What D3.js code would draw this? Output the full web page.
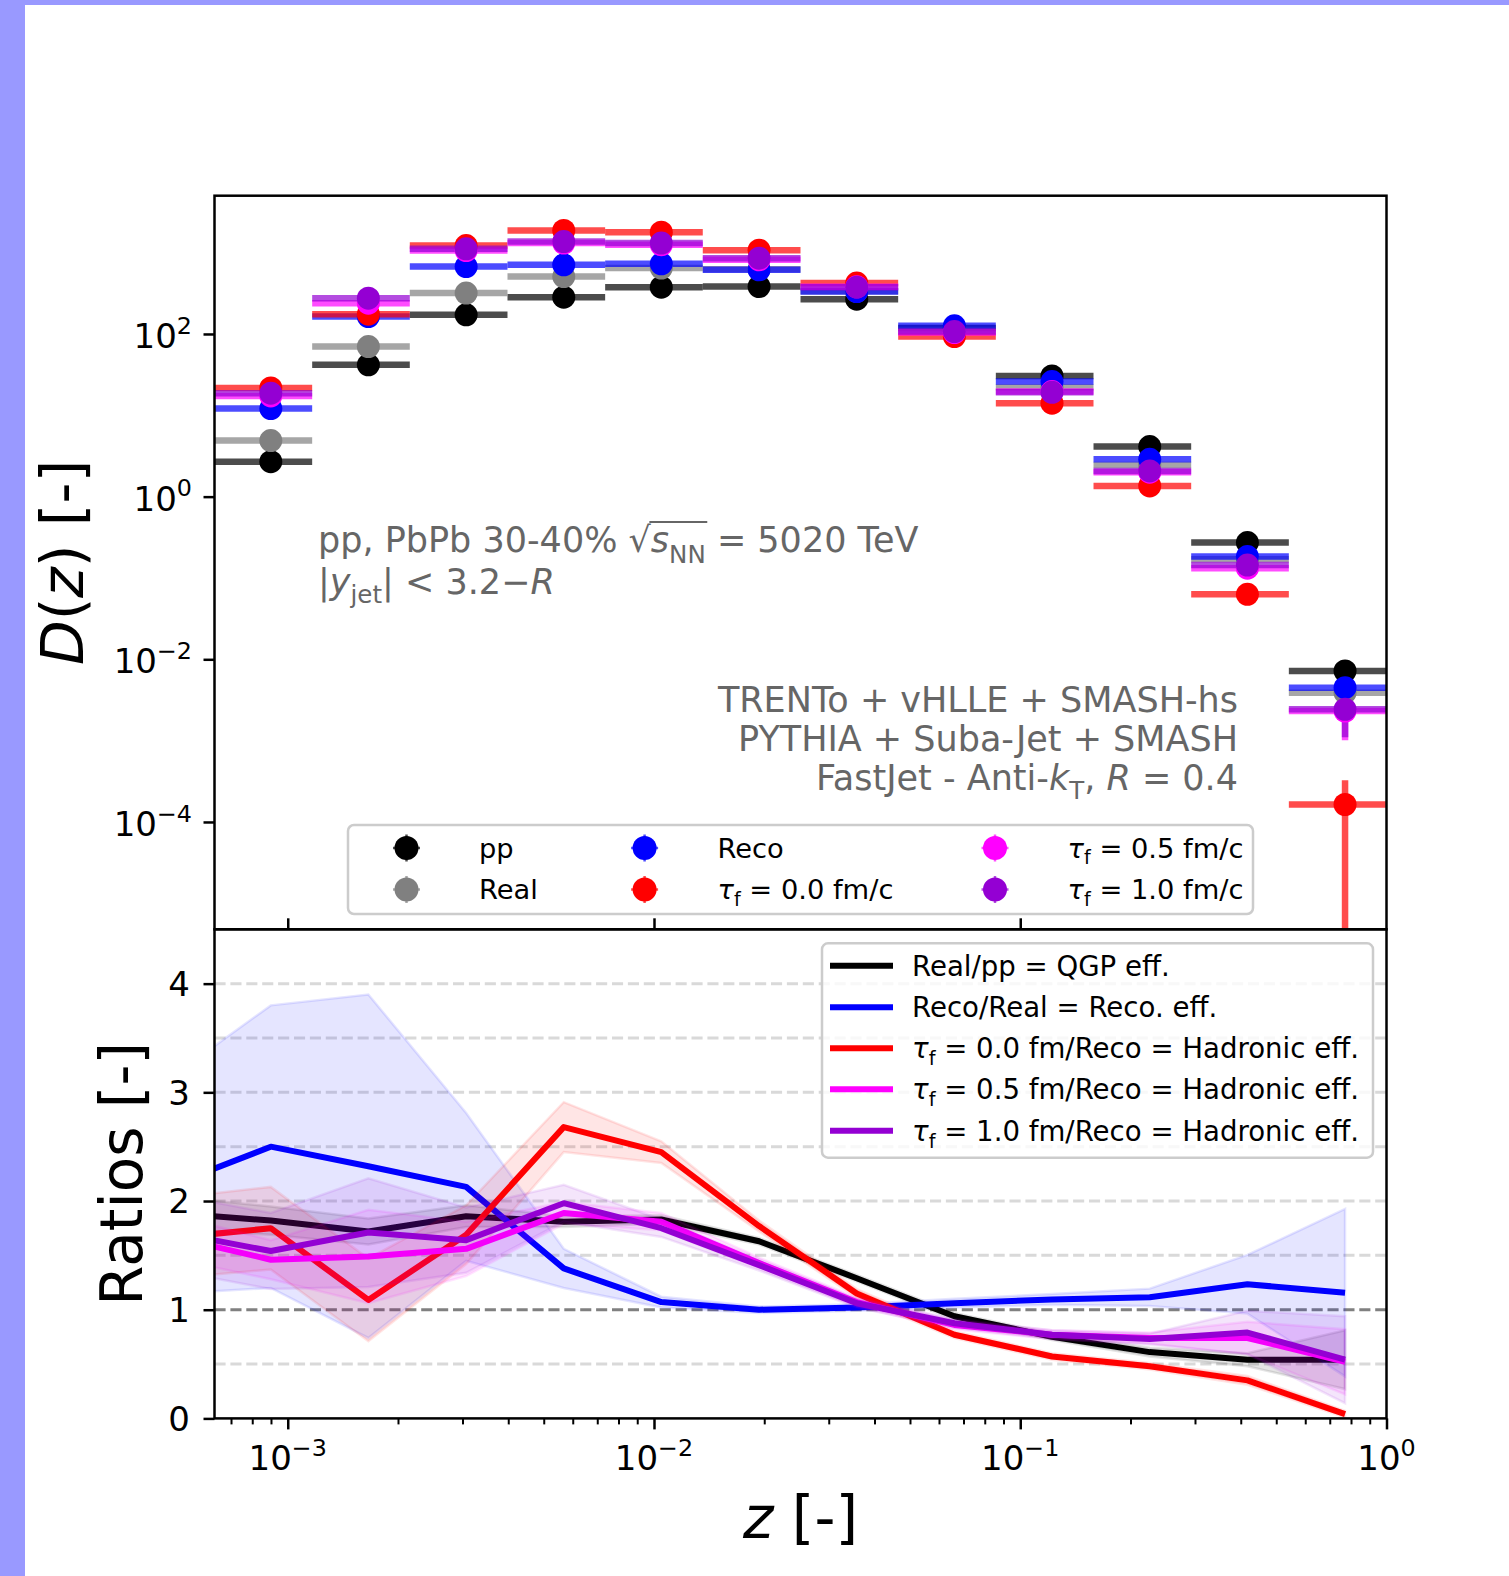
<!DOCTYPE html>
<html><head><meta charset="utf-8">
<script src="https://cdn.jsdelivr.net/npm/d3@7/dist/d3.min.js"></script>
<style>
html,body{margin:0;padding:0;background:#fff;}
svg{display:block;font-family:"DejaVu Sans",sans-serif;}
text{white-space:pre;}
</style></head><body>
<svg id="chart" width="1509" height="1576"></svg>
<script>
// ---------------- DATA ----------------
const binEdges = [0.000631, 0.001166, 0.002154, 0.003981, 0.007356, 0.01359, 0.02512, 0.04642, 0.08577, 0.1585, 0.2929, 0.5412, 1.0];
const zCenters = [0.000899, 0.00166, 0.00307, 0.00567, 0.01047, 0.01936, 0.03577, 0.06610, 0.1221, 0.2257, 0.4171, 0.7706];

const ppValues    = [2.69, 41.7, 172, 283, 376, 383, 268, 118, 30.5, 4.12, 0.272, 0.00718];
const ppErrors    = [0.08, 0.9, 2.5, 3.5, 4, 4, 3, 1.5, 0.5, 0.09, 0.01, 0.0006];
const realValues  = [4.89, 70, 318, 508, 645, 624, 335, 112, 22.1, 2.45, 0.17, 0.00389];
const realErrors  = [0.2, 2, 6, 8, 9, 8, 5, 2, 0.5, 0.08, 0.01, 0.0006];
const recoValues  = [12.1, 164, 675, 708, 728, 614, 332, 126, 26, 2.88, 0.183, 0.00448];
const recoErrors  = [0.5, 4, 12, 12, 11, 9, 5, 2, 0.6, 0.1, 0.012, 0.0008];
const tau00Values = [21.7, 175, 1222, 1871, 1786, 1073, 422, 93, 14.1, 1.355, 0.063, 0.000164];
const tau00Errors = [0.8, 4, 20, 28, 25, 15, 6, 1.8, 0.4, 0.06, 0.006, 0.000162];
const tau05Values = [17.3, 239, 1061, 1309, 1247, 816, 380, 104, 19.6, 2.0, 0.132, 0.00231];
const tau05Errors = [0.7, 5, 18, 20, 18, 12, 6, 2, 0.5, 0.08, 0.012, 0.0013];
const tau10Values = [18.7, 275, 1114, 1370, 1309, 855, 376, 107, 19.2, 2.07, 0.144, 0.00243];
const tau10Errors = [0.7, 5, 18, 20, 18, 12, 6, 2, 0.5, 0.08, 0.012, 0.00133];

// ratio panel (first point lies left of the visible range)
const ratioZ = [0.000486, 0.000899, 0.00166, 0.00307, 0.00567, 0.01047, 0.01936, 0.03577, 0.06610, 0.1221, 0.2257, 0.4171, 0.7706];
const qgpRatio    = [1.89, 1.82, 1.72, 1.86, 1.81, 1.83, 1.63, 1.29, 0.94, 0.75, 0.61, 0.54, 0.54];
const qgpErr      = [0.15, 0.13, 0.12, 0.10, 0.05, 0.04, 0.03, 0.03, 0.03, 0.03, 0.04, 0.06, 0.27];
const recoRatio   = [2.15, 2.50, 2.32, 2.13, 1.38, 1.07, 1.00, 1.02, 1.06, 1.095, 1.114, 1.234, 1.157];
const recoErr     = [1.0, 1.3, 1.58, 0.68, 0.18, 0.05, 0.03, 0.03, 0.04, 0.05, 0.08, 0.27, 0.77];
const had00Ratio  = [1.66, 1.75, 1.09, 1.69, 2.68, 2.45, 1.77, 1.15, 0.77, 0.57, 0.48, 0.35, 0.04];
const had00Err    = [0.37, 0.38, 0.38, 0.27, 0.23, 0.10, 0.05, 0.04, 0.03, 0.03, 0.03, 0.04, 0.03];
const had05Ratio  = [1.67, 1.46, 1.49, 1.56, 1.89, 1.81, 1.43, 1.07, 0.86, 0.77, 0.74, 0.74, 0.52];
const had05Err    = [0.2, 0.18, 0.43, 0.25, 0.10, 0.08, 0.05, 0.04, 0.04, 0.04, 0.05, 0.15, 0.30];
const had10Ratio  = [1.71, 1.54, 1.71, 1.64, 1.98, 1.75, 1.41, 1.06, 0.875, 0.77, 0.73, 0.79, 0.54];
const had10Err    = [0.35, 0.35, 0.50, 0.30, 0.17, 0.08, 0.05, 0.04, 0.04, 0.04, 0.05, 0.20, 0.40];

const topYTicks = [1e-4, 1e-2, 1, 1e2];
const topYTickLabels = [["10","−4"],["10","−2"],["10","0"],["10","2"]];
const xMajorTicks = [1e-3, 1e-2, 1e-1, 1];
const xTickLabels = [["10","−3"],["10","−2"],["10","−1"],["10","0"]];
const botYTicks = [0, 1, 2, 3, 4];
const gridLevels = [0.5, 1.5, 2, 2.5, 3, 3.5, 4];
const refLevel = 1;

// ---------------- LAYOUT ----------------
const L = 214.5, R = 1386.5, T1 = 195.7, B1 = 929.3, B2 = 1418.4;
const TICKFONT = 34, LEGFONT = 27.3, ANNOFONT = 35, LABELFONT = 58;
const svg = d3.select("#chart");
svg.append("rect").attr("width",1509).attr("height",1576).attr("fill","#fff");
svg.append("rect").attr("x",0).attr("y",0).attr("width",25).attr("height",1576).attr("fill","#9999ff");
svg.append("rect").attr("x",0).attr("y",0).attr("width",1509).attr("height",5).attr("fill","#9999ff");

const x = d3.scaleLog().domain([binEdges[0], binEdges[binEdges.length-1]]).range([L, R]);
const yTop = d3.scaleLog().domain([4.79e-6, 5012]).range([B1, T1]);
const yBot = d3.scaleLinear().domain([0, 4.5]).range([B2, B1]);

const defs = svg.append("defs");
defs.append("clipPath").attr("id","clipTop").append("rect").attr("x",L).attr("y",T1).attr("width",R-L).attr("height",B1-T1);
defs.append("clipPath").attr("id","clipBot").append("rect").attr("x",L).attr("y",B1).attr("width",R-L).attr("height",B2-B1);

function rich(parent, px, py, parts, size, opts) {
  opts = opts || {};
  const t = parent.append("text").attr("x",px).attr("y",py).attr("font-size",size)
    .attr("text-anchor",opts.anchor||"start").attr("fill",opts.fill||"#000");
  let cur = 0;
  const spans = [];
  parts.forEach(p => {
    const ts = t.append("tspan").text(p.t);
    let target = p.sub ? size*(p.subShift||0.25) : (p.sup ? -size*0.42 : 0);
    const dy = target - cur; cur = target;
    if (dy) ts.attr("dy", dy);
    if (p.sub || p.sup) ts.attr("font-size", size*0.7);
    if (p.it) ts.attr("font-style","italic");
    spans.push(ts);
  });
  return {t, spans};
}

// ---------------- TOP PANEL ----------------
const topSeries = [
  {color:"#000000", values:ppValues,    errors:ppErrors},
  {color:"#808080", values:realValues,  errors:realErrors},
  {color:"#0000ff", values:recoValues,  errors:recoErrors},
  {color:"#ff0000", values:tau00Values, errors:tau00Errors},
  {color:"#ff00ff", values:tau05Values, errors:tau05Errors},
  {color:"#9400d3", values:tau10Values, errors:tau10Errors}
];
const gTop = svg.append("g").attr("clip-path","url(#clipTop)");
const gBars = gTop.append("g");
const gMarks = gTop.append("g");
topSeries.forEach(s => {
  const g = gBars.append("g").attr("stroke", s.color).attr("stroke-opacity",0.7).attr("stroke-width",6.5);
  s.values.forEach((v,i) => {
    g.append("line").attr("x1", x(binEdges[i])).attr("x2", x(binEdges[i+1]))
      .attr("y1", yTop(v)).attr("y2", yTop(v));
    const lo = v - s.errors[i] > 0 ? v - s.errors[i] : 1e-9;
    g.append("line").attr("x1", x(zCenters[i])).attr("x2", x(zCenters[i]))
      .attr("y1", yTop(lo)).attr("y2", yTop(v + s.errors[i]));
  });
});
topSeries.forEach(s => {
  gMarks.append("g").selectAll("circle").data(s.values).join("circle")
    .attr("cx",(d,i)=>x(zCenters[i])).attr("cy",d=>yTop(d)).attr("r",11.5).attr("fill",s.color);
});

// top axes
const axTopY = svg.append("g").attr("transform",`translate(${L},0)`)
  .call(d3.axisLeft(yTop).tickValues(topYTicks).tickSize(11).tickFormat(()=>""));
const axTopX = svg.append("g").attr("transform",`translate(0,${B1})`)
  .call(d3.axisTop(x).tickValues(xMajorTicks.slice(0,3)).tickSize(11).tickFormat(()=>""));
[axTopY, axTopX].forEach(a => { a.select(".domain").remove(); a.selectAll("line").attr("stroke","#000").attr("stroke-width",2.5); });
topYTicks.forEach((v,i) => {
  rich(svg, 192, yTop(v)+14, [{t:topYTickLabels[i][0]},{t:topYTickLabels[i][1],sup:true}], TICKFONT, {anchor:"end"});
});
svg.append("rect").attr("x",L).attr("y",T1).attr("width",R-L).attr("height",B1-T1)
  .attr("fill","none").attr("stroke","#000").attr("stroke-width",2.5);

// annotations
const annoCol = "#666666";
const a1x = 318, a1y = 552;
const a1 = rich(svg, a1x, a1y, [
  {t:"pp, PbPb 30-40% "},{t:"√"},{t:"s",it:true},{t:"NN",sub:true,subShift:0.3},{t:" = 5020 TeV"}
], ANNOFONT, {fill:annoCol});
// overline of the square root
{
  const w0 = a1.spans[0].node().getComputedTextLength();
  const w1 = a1.spans[1].node().getComputedTextLength();
  const w2 = a1.spans[2].node().getComputedTextLength();
  const w3 = a1.spans[3].node().getComputedTextLength();
  const sx = a1x + w0 + w1 - 1.5;
  svg.append("line").attr("x1", sx).attr("x2", sx + w2 + w3 + 3)
    .attr("y1", a1y-30).attr("y2", a1y-30).attr("stroke", annoCol).attr("stroke-width", 2.2);
}
rich(svg, 318, 594, [
  {t:"|"},{t:"y",it:true},{t:"jet",sub:true},{t:"| < 3.2−"},{t:"R",it:true}
], ANNOFONT, {fill:annoCol});
rich(svg, 1238, 711.7, [{t:"TRENTo + vHLLE + SMASH-hs"}], ANNOFONT, {fill:annoCol, anchor:"end"});
rich(svg, 1238, 751, [{t:"PYTHIA + Suba-Jet + SMASH"}], ANNOFONT, {fill:annoCol, anchor:"end"});
rich(svg, 1238, 790, [
  {t:"FastJet - Anti-"},{t:"k",it:true},{t:"T",sub:true},{t:", "},{t:"R",it:true},{t:" = 0.4"}
], ANNOFONT, {fill:annoCol, anchor:"end"});

// top legend
const legTop = svg.append("g");
legTop.append("rect").attr("x",348).attr("y",825).attr("width",905).attr("height",89).attr("rx",6)
  .attr("fill","#fff").attr("fill-opacity",0.8).attr("stroke","#cccccc").attr("stroke-width",2.5);
const legTopItems = [
  {s:0, mx:406.5, tx:479, row:0, parts:[{t:"pp"}]},
  {s:1, mx:406.5, tx:479, row:1, parts:[{t:"Real"}]},
  {s:2, mx:644.6, tx:717.5, row:0, parts:[{t:"Reco"}]},
  {s:3, mx:644.6, tx:717.5, row:1, parts:[{t:"τ",it:true},{t:"f",sub:true},{t:" = 0.0 fm/c"}]},
  {s:4, mx:995, tx:1067.6, row:0, parts:[{t:"τ",it:true},{t:"f",sub:true},{t:" = 0.5 fm/c"}]},
  {s:5, mx:995, tx:1067.6, row:1, parts:[{t:"τ",it:true},{t:"f",sub:true},{t:" = 1.0 fm/c"}]}
];
legTopItems.forEach(it => {
  const cy = it.row ? 889.5 : 848;
  const c = topSeries[it.s].color;
  legTop.append("line").attr("x1",it.mx-13.5).attr("x2",it.mx+13.5).attr("y1",cy).attr("y2",cy)
    .attr("stroke",c).attr("stroke-opacity",0.7).attr("stroke-width",2.5);
  legTop.append("line").attr("x1",it.mx).attr("x2",it.mx).attr("y1",cy-13.5).attr("y2",cy+13.5)
    .attr("stroke",c).attr("stroke-opacity",0.7).attr("stroke-width",2.5);
  legTop.append("circle").attr("cx",it.mx).attr("cy",cy).attr("r",12).attr("fill",c);
  rich(legTop, it.tx, cy+9.5, it.parts, LEGFONT);
});

// y label top
const yl1 = svg.append("g").attr("transform","translate(83,562.5) rotate(-90)");
rich(yl1, 0, 0, [{t:"D",it:true},{t:"("},{t:"z",it:true},{t:") [-]"}], LABELFONT, {anchor:"middle"});

// ---------------- BOTTOM PANEL ----------------
const gGrid = svg.append("g");
gridLevels.forEach(v => {
  gGrid.append("line").attr("x1",L).attr("x2",R).attr("y1",yBot(v)).attr("y2",yBot(v))
    .attr("stroke","#d9d9d9").attr("stroke-width",3).attr("stroke-dasharray","11.1,4.8");
});
gGrid.append("line").attr("x1",L).attr("x2",R).attr("y1",yBot(refLevel)).attr("y2",yBot(refLevel))
  .attr("stroke","#808080").attr("stroke-width",3).attr("stroke-dasharray","11.1,4.8");

const ratioSeries = [
  {color:"#000000", values:qgpRatio,   errors:qgpErr,   parts:[{t:"Real/pp = QGP eff."}]},
  {color:"#0000ff", values:recoRatio,  errors:recoErr,  parts:[{t:"Reco/Real = Reco. eff."}]},
  {color:"#ff0000", values:had00Ratio, errors:had00Err, parts:[{t:"τ",it:true},{t:"f",sub:true},{t:" = 0.0 fm/Reco = Hadronic eff."}]},
  {color:"#ff00ff", values:had05Ratio, errors:had05Err, parts:[{t:"τ",it:true},{t:"f",sub:true},{t:" = 0.5 fm/Reco = Hadronic eff."}]},
  {color:"#9400d3", values:had10Ratio, errors:had10Err, parts:[{t:"τ",it:true},{t:"f",sub:true},{t:" = 1.0 fm/Reco = Hadronic eff."}]}
];
const gBot = svg.append("g").attr("clip-path","url(#clipBot)");
const area = d3.area().x((d,i)=>x(ratioZ[i])).y0(d=>yBot(d[0]-d[1])).y1(d=>yBot(d[0]+d[1]));
const line = d3.line().x((d,i)=>x(ratioZ[i])).y(d=>yBot(d));
ratioSeries.forEach(s => {
  const pairs = s.values.map((v,i)=>[v, s.errors[i]]);
  gBot.append("path").attr("d", area(pairs)).attr("fill", s.color).attr("fill-opacity",0.1)
    .attr("stroke", s.color).attr("stroke-opacity",0.1).attr("stroke-width",2.5);
  gBot.append("path").attr("d", line(s.values)).attr("fill","none").attr("stroke", s.color)
    .attr("stroke-width",6).attr("stroke-linejoin","round").attr("stroke-linecap","butt");
});

// bottom axes
const axBotX = svg.append("g").attr("transform",`translate(0,${B2})`)
  .call(d3.axisBottom(x).tickValues(xMajorTicks).tickSize(11).tickFormat(()=>""));
const minorTicks = x.ticks().filter(v => Math.abs(Math.log10(v) - Math.round(Math.log10(v))) > 1e-6);
const axBotXm = svg.append("g").attr("transform",`translate(0,${B2})`)
  .call(d3.axisBottom(x).tickValues(minorTicks).tickSize(6).tickFormat(()=>""));
const axBotY = svg.append("g").attr("transform",`translate(${L},0)`)
  .call(d3.axisLeft(yBot).tickValues(botYTicks).tickSize(11).tickFormat(()=>""));
[axBotX, axBotXm, axBotY].forEach(a => { a.select(".domain").remove(); a.selectAll("line").attr("stroke","#000").attr("stroke-width",2.5); });
axBotXm.selectAll("line").attr("stroke-width",2);
xMajorTicks.forEach((v,i) => {
  rich(svg, x(v), 1470, [{t:xTickLabels[i][0]},{t:xTickLabels[i][1],sup:true}], TICKFONT, {anchor:"middle"});
});
botYTicks.forEach(v => {
  rich(svg, 190, yBot(v)+12.3, [{t:String(v)}], TICKFONT, {anchor:"end"});
});
svg.append("rect").attr("x",L).attr("y",B1).attr("width",R-L).attr("height",B2-B1)
  .attr("fill","none").attr("stroke","#000").attr("stroke-width",2.5);

// bottom legend
const legBot = svg.append("g");
legBot.append("rect").attr("x",822).attr("y",943.3).attr("width",551).attr("height",214.4).attr("rx",6)
  .attr("fill","#fff").attr("fill-opacity",0.8).attr("stroke","#cccccc").attr("stroke-width",2.5);
const legRows = [965.7, 1007.3, 1048.3, 1089.3, 1130.7];
ratioSeries.forEach((s,i) => {
  legBot.append("line").attr("x1",830).attr("x2",893).attr("y1",legRows[i]).attr("y2",legRows[i])
    .attr("stroke",s.color).attr("stroke-width",6);
  rich(legBot, 912, legRows[i]+10, s.parts, 27.6);
});

// labels
const yl2 = svg.append("g").attr("transform","translate(142,1173.9) rotate(-90)");
rich(yl2, 0, 0, [{t:"Ratios [-]"}], LABELFONT, {anchor:"middle"});
rich(svg, 800.5, 1538, [{t:"z",it:true},{t:" [-]"}], LABELFONT, {anchor:"middle"});
</script>
</body></html>
